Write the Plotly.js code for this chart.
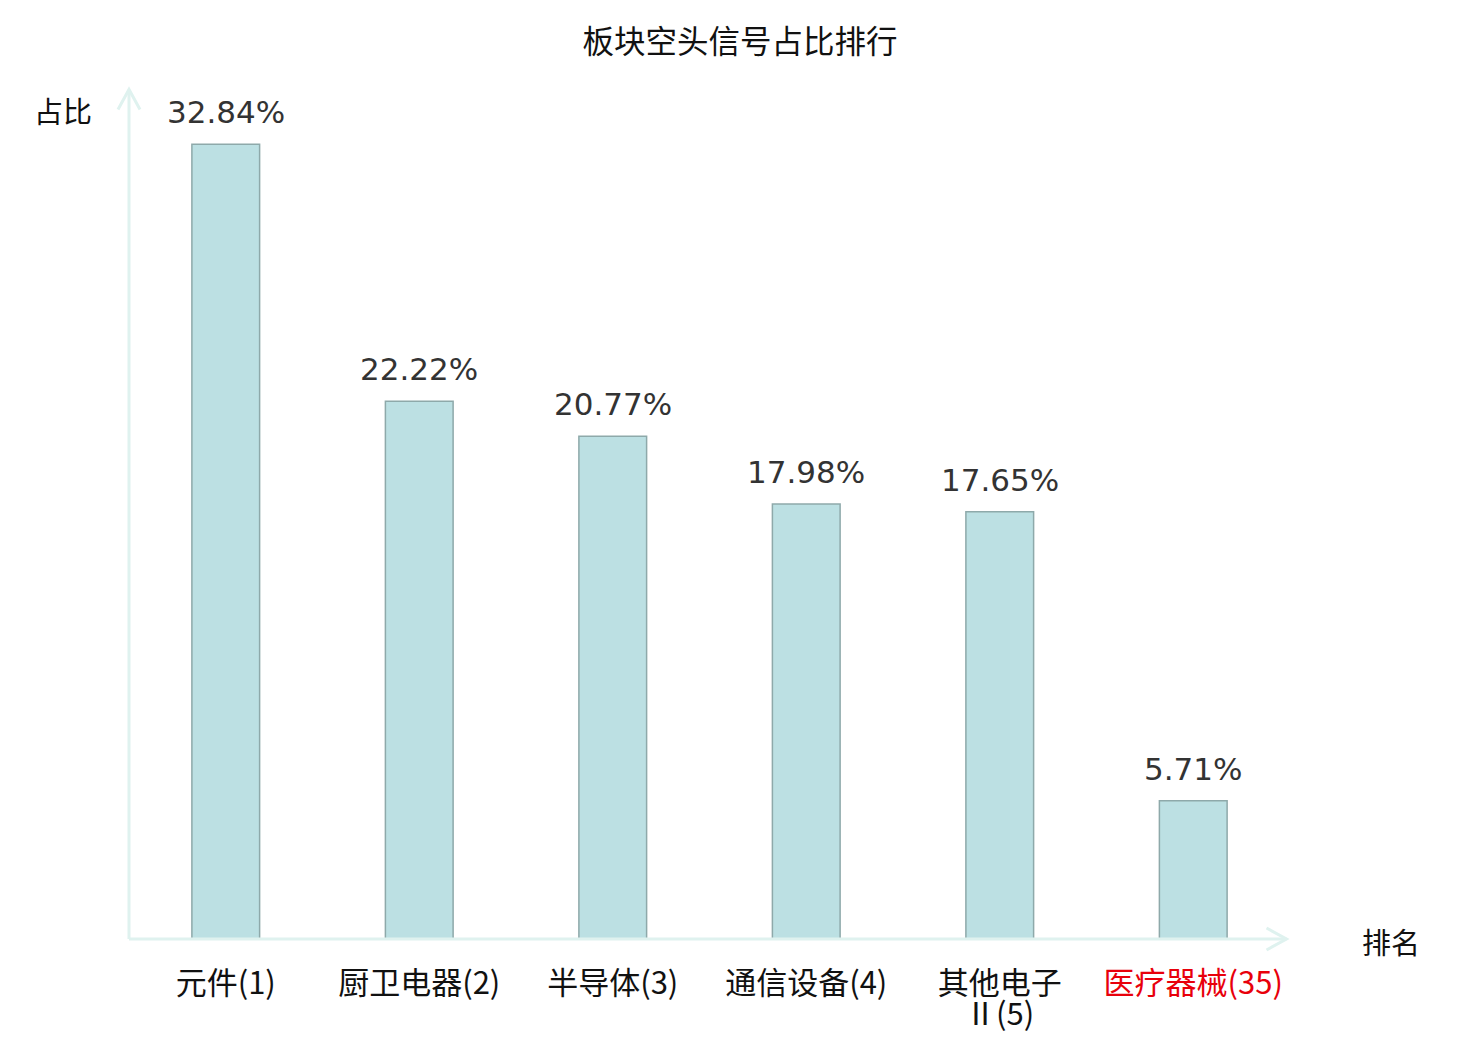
<!DOCTYPE html>
<html>
<head>
<meta charset="utf-8">
<script src="https://cdn.plot.ly/plotly-3.0.1.min.js"></script>
<style>
  body { margin: 0; background: #ffffff; }
  #chart { width: 1480px; height: 1040px; }
</style>
</head>
<body>
<div id="chart"></div>
<script>
var sectors = ['元件(1)', '厨卫电器(2)', '半导体(3)', '通信设备(4)', '其他电子<br>Ⅱ(5)', '医疗器械(35)']
var share = [32.84, 22.22, 20.77, 17.98, 17.65, 5.71]
var highlight = '医疗器械(35)'

var axisColor = '#dff2ef'
var cjk = '"Noto Sans CJK SC", "Noto Sans", sans-serif'
var labelSize = 31

// tick labels: first line on the axis, any second line as its own annotation
// (plotly's line spacing is too wide for the two-line label)
var tickText = sectors.map(function(s) {
  var first = s.split('<br>')[0]
  return s === highlight ? '<span style="color:#e8000b">' + first + '</span>' : first
})

var trace = {
  type: 'bar',
  x: sectors,
  y: share,
  width: 0.35,
  marker: {
    color: '#bce0e3',
    line: {color: '#8ea9aa', width: 1.5}
  },
  hoverinfo: 'none'
}

var annotations = [
  {text: '占比', xref: 'paper', yref: 'paper', x: -0.057, y: 0.979,
   xanchor: 'center', yanchor: 'middle', showarrow: false,
   font: {family: cjk, size: 29, color: '#111111'}},
  {text: '排名', xref: 'paper', yref: 'paper', x: 1.087, y: -0.002,
   xanchor: 'center', yanchor: 'middle', showarrow: false,
   font: {family: cjk, size: 29, color: '#111111'}}
]

// value labels above the bars
sectors.forEach(function(s, i) {
  annotations.push({text: share[i].toFixed(2) + '%', xref: 'x', yref: 'y', x: s, y: share[i],
    xanchor: 'center', yanchor: 'bottom', yshift: 12, showarrow: false,
    font: {family: '"DejaVu Sans", sans-serif', size: 31, color: '#333333'}})
})

// second lines of wrapped tick labels
sectors.forEach(function(s) {
  var parts = s.split('<br>')
  if (parts.length > 1) {
    annotations.push({text: parts[1], xref: 'x', yref: 'paper', x: s, y: -0.086,
      xanchor: 'center', yanchor: 'middle', showarrow: false,
      font: {family: cjk, size: labelSize, color: '#111111'}})
  }
})

var layout = {
  width: 1480,
  height: 1040,
  margin: {l: 129, r: 190, t: 92, b: 101, pad: 0},
  paper_bgcolor: '#ffffff',
  plot_bgcolor: '#ffffff',
  showlegend: false,
  title: {
    text: '板块空头信号占比排行',
    font: {family: cjk, size: 31.5, color: '#111111'},
    x: 0.5, xref: 'container',
    y: 0.96, yref: 'container', yanchor: 'middle'
  },
  xaxis: {
    type: 'category',
    range: [-0.5, 5.5],
    tickmode: 'array',
    tickvals: sectors,
    ticktext: tickText,
    ticks: 'outside',
    ticklen: 17,
    tickcolor: 'rgba(0,0,0,0)',
    tickfont: {family: cjk, size: labelSize, color: '#111111'},
    showline: false,
    showgrid: false,
    zeroline: false
  },
  yaxis: {
    range: [0, 35],
    showticklabels: false,
    ticks: '',
    showline: false,
    showgrid: false,
    zeroline: false
  },
  shapes: [
    // y axis line and arrow
    {type: 'line', xref: 'paper', yref: 'paper', x0: 0, x1: 0, y0: 0, y1: 1.003,
     line: {color: axisColor, width: 3}},
    {type: 'path', xref: 'paper', yref: 'paper', xsizemode: 'pixel', ysizemode: 'pixel',
     xanchor: 0, yanchor: 1.003, path: 'M-11,-20 L0,0 L11,-20',
     line: {color: axisColor, width: 3}},
    // x axis line and arrow
    {type: 'line', xref: 'paper', yref: 'paper', x0: 0, x1: 0.997, y0: 0, y1: 0,
     line: {color: axisColor, width: 3}},
    {type: 'path', xref: 'paper', yref: 'paper', xsizemode: 'pixel', ysizemode: 'pixel',
     xanchor: 0.997, yanchor: 0, path: 'M-20,-11 L0,0 L-20,11',
     line: {color: axisColor, width: 3}}
  ],
  annotations: annotations
}

Plotly.newPlot('chart', [trace], layout, {displayModeBar: false, staticPlot: true})
</script>
</body>
</html>
